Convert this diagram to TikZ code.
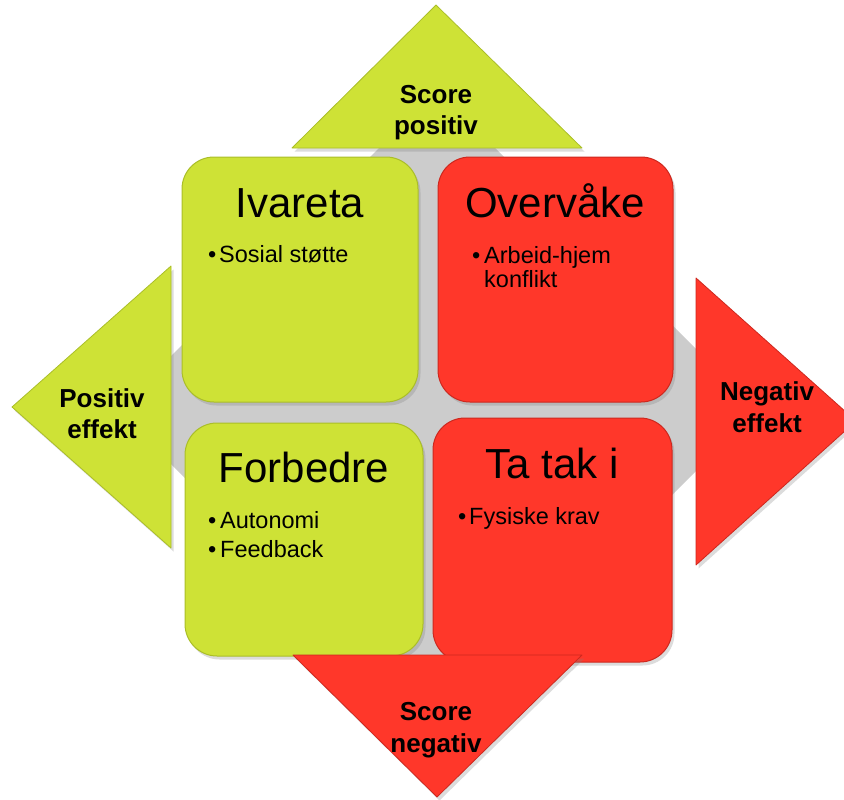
\documentclass[tikz,border=0pt]{standalone}
\usepackage{fontspec}
\setmainfont{Liberation Sans}
\usetikzlibrary{shadows}
\definecolor{limefill}{RGB}{206,226,54}
\definecolor{limeedge}{RGB}{170,190,40}
\definecolor{redfill}{RGB}{255,55,42}
\definecolor{rededge}{RGB}{205,40,30}
\definecolor{bggray}{RGB}{204,204,204}
\tikzset{
  shade/.style={drop shadow={opacity=0.28,shadow xshift=2.5pt,shadow yshift=-3.5pt}},
  greenbox/.style={fill=limefill,draw=limeedge,line width=1pt,rounded corners=32pt,shade},
  redbox/.style={fill=redfill,draw=rededge,line width=1pt,rounded corners=32pt,shade},
  greentri/.style={fill=limefill,draw=limeedge,line width=0.8pt,line join=round,shade},
  redtri/.style={fill=redfill,draw=rededge,line width=0.8pt,line join=round,shade},
  title/.style={inner sep=0pt,anchor=base,font=\fontsize{42}{50}\selectfont},
  item/.style={inner sep=0pt,anchor=base west,font=\fontsize{23.5}{28}\selectfont},
  tlabel/.style={inner sep=0pt,anchor=base,font=\fontsize{26}{31}\selectfont\bfseries}
}
\begin{document}
\begin{tikzpicture}[x=1pt,y=-1pt]
\useasboundingbox (0,0) rectangle (844,800);
\clip (0,0) rectangle (844,800);
% background rotated square
\fill[bggray,rounded corners=45pt] (437,90) -- (757,410) -- (437,730) -- (117,410) -- cycle;
% quadrant boxes
\path[greenbox] (182,157) rectangle (418,402);
\path[redbox] (438,157) rectangle (673,402);
\path[greenbox] (185,423) rectangle (423,656);
\path[redbox] (433,418) rectangle (672,662);
% titles
\node[title] (ivareta) at (300,217) {Ivareta};
\node[title] (overvake) at (555,217) {Overvåke};
\node[title] (forbedre) at (304,482) {Forbedre};
\node[title] (tatak) at (552,478) {Ta tak i};
% bullet items
\node[item] (b1) at (208,262) {•};
\node[item] (i1) at (219,262) {Sosial støtte};
\node[item] (b2) at (472,263) {•};
\node[item] (i2) at (484,263) {Arbeid-hjem};
\node[item] (i2b) at (484,287) {konflikt};
\node[item] (b3) at (208,528) {•};
\node[item] (i3) at (220,528) {Autonomi};
\node[item] (b4) at (208,557) {•};
\node[item] (i4) at (220,557) {Feedback};
\node[item] (b5) at (458,524) {•};
\node[item] (i5) at (469,524) {Fysiske krav};
% triangles
\path[greentri] (436,5) -- (582,148) -- (292,148) -- cycle;
\path[greentri] (12,407) -- (171,266) -- (171,548) -- cycle;
\path[redtri] (696,278) -- (856,421) -- (696,565) -- cycle;
\path[redtri] (293,655) -- (582,655) -- (437,797) -- cycle;
% triangle labels
\node[tlabel] (sp1) at (436,103) {Score};
\node[tlabel] (sp2) at (436,134) {positiv};
\node[tlabel] (pe1) at (102,407) {Positiv};
\node[tlabel] (pe2) at (102,438) {effekt};
\node[tlabel] (ne1) at (767,400) {Negativ};
\node[tlabel] (ne2) at (767,432) {effekt};
\node[tlabel] (sn1) at (436,720) {Score};
\node[tlabel] (sn2) at (436,752) {negativ};
\end{tikzpicture}
\end{document}
